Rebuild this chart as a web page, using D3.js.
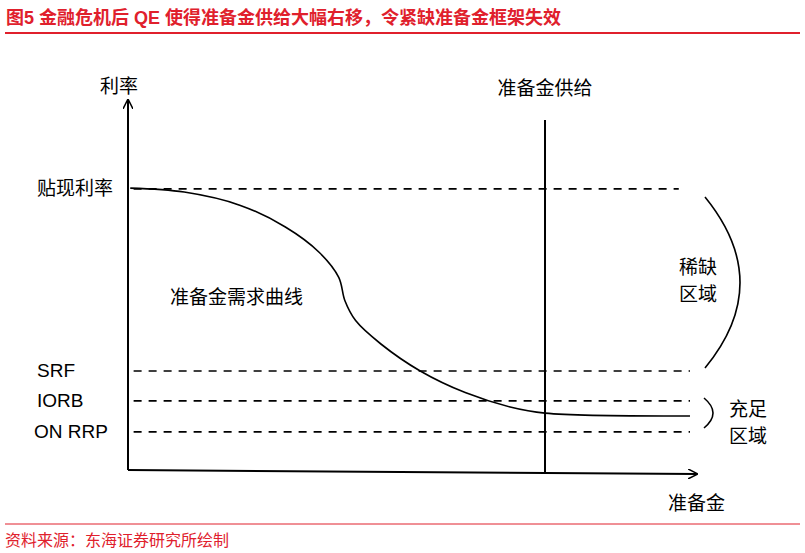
<!DOCTYPE html>
<html><head><meta charset="utf-8">
<script src="https://cdn.jsdelivr.net/npm/d3@7"></script>
<style>body{margin:0;background:#fff}text{font-family:"Liberation Sans","Noto Sans CJK SC",sans-serif}</style>
</head><body><div id="chart"></div>
<script>
// schematic values, in 0-100 units
var demandX = [0.4, 10, 20, 28, 34, 37.5, 38.6, 40.5, 45, 52, 60, 68, 74.2, 100];
var demandY = [78.3, 77.2, 73.5, 67.5, 60.5, 53.5, 47, 41.5, 35, 27.5, 21.5, 17.5, 15.8, 15];
var rateNames = ['贴现利率', 'SRF', 'IORB', 'ON RRP'];
var rateLevels = [78.1, 27.5, 19.2, 10.6];
var rateEnds = [98, 100, 100, 100];
var labelX = [37, 37, 37, 34];
var supplyX = 74.2;

var svg = d3.select('#chart').append('svg').attr('width', 805).attr('height', 553);
var x = d3.scaleLinear().domain([0, 100]).range([128, 690]);
var y = d3.scaleLinear().domain([0, 100]).range([470, 110]);

svg.append('text').attr('x', 6).attr('y', 24).attr('fill', '#e0202c')
    .style('font-size', '18px').style('font-weight', 'bold')
    .text('图5  金融危机后 QE 使得准备金供给大幅右移，令紧缺准备金框架失效');
svg.append('line').attr('x1', 5).attr('x2', 800).attr('y1', 33).attr('y2', 33)
    .attr('stroke', '#e0202c').attr('stroke-width', 2);
svg.append('line').attr('x1', 5).attr('x2', 800).attr('y1', 524).attr('y2', 524)
    .attr('stroke', '#e0202c').attr('stroke-width', 1);
svg.append('text').attr('x', 5).attr('y', 546).attr('fill', '#e0202c')
    .style('font-size', '16px').text('资料来源：东海证券研究所绘制');

var defs = svg.append('defs');
defs.append('marker').attr('id', 'arr').attr('viewBox', '0 0 10 10').attr('refX', 9).attr('refY', 5)
    .attr('markerWidth', 10).attr('markerHeight', 10).attr('markerUnits', 'userSpaceOnUse').attr('orient', 'auto')
    .append('path').attr('d', 'M0,0L10,5L0,10').attr('fill', 'none').attr('stroke', '#000').attr('stroke-width', 1.5);

// axes
svg.append('line').attr('x1', x(0)).attr('y1', y(0)).attr('x2', x(0)).attr('y2', 100)
    .attr('stroke', '#000').attr('stroke-width', 2).attr('marker-end', 'url(#arr)');
svg.append('line').attr('x1', x(0)).attr('y1', y(0)).attr('x2', 697).attr('y2', 474)
    .attr('stroke', '#000').attr('stroke-width', 2).attr('marker-end', 'url(#arr)');
svg.append('text').attr('x', 100).attr('y', 93).style('font-size', '19px').text('利率');
svg.append('text').attr('x', 668).attr('y', 510).style('font-size', '19px').text('准备金');

// rate lines
rateNames.forEach(function (n, i) {
    svg.append('line').attr('x1', x(1)).attr('x2', x(rateEnds[i]))
        .attr('y1', y(rateLevels[i])).attr('y2', y(rateLevels[i]))
        .attr('stroke', '#000').attr('stroke-width', 1.6).attr('stroke-dasharray', '8,7');
    svg.append('text').attr('x', labelX[i]).attr('y', y(rateLevels[i]) + 6)
        .style('font-size', '19px').text(n);
});

// supply
svg.append('line').attr('x1', x(supplyX)).attr('x2', x(supplyX)).attr('y1', 120).attr('y2', 472)
    .attr('stroke', '#000').attr('stroke-width', 2);
svg.append('text').attr('x', x(supplyX)).attr('y', 95).attr('text-anchor', 'middle')
    .style('font-size', '19px').text('准备金供给');

// demand
var line = d3.line().x(function (d) { return x(d[0]); }).y(function (d) { return y(d[1]); }).curve(d3.curveCatmullRom);
svg.append('path').datum(d3.zip(demandX, demandY)).attr('d', line)
    .attr('fill', 'none').attr('stroke', '#000').attr('stroke-width', 1.6);
svg.append('text').attr('x', 170).attr('y', 304).style('font-size', '19px').text('准备金需求曲线');

// brackets
svg.append('path').attr('d', 'M705,197 Q775,283 705,368').attr('fill', 'none').attr('stroke', '#000').attr('stroke-width', 1.6);
svg.append('path').attr('d', 'M704,398 Q722,413 704,428').attr('fill', 'none').attr('stroke', '#000').attr('stroke-width', 1.6);
[['稀缺', 698, 274], ['区域', 698, 301], ['充足', 748, 416], ['区域', 748, 443]].forEach(function (t) {
    svg.append('text').attr('x', t[1]).attr('y', t[2]).attr('text-anchor', 'middle').style('font-size', '19px').text(t[0]);
});
</script></body></html>
